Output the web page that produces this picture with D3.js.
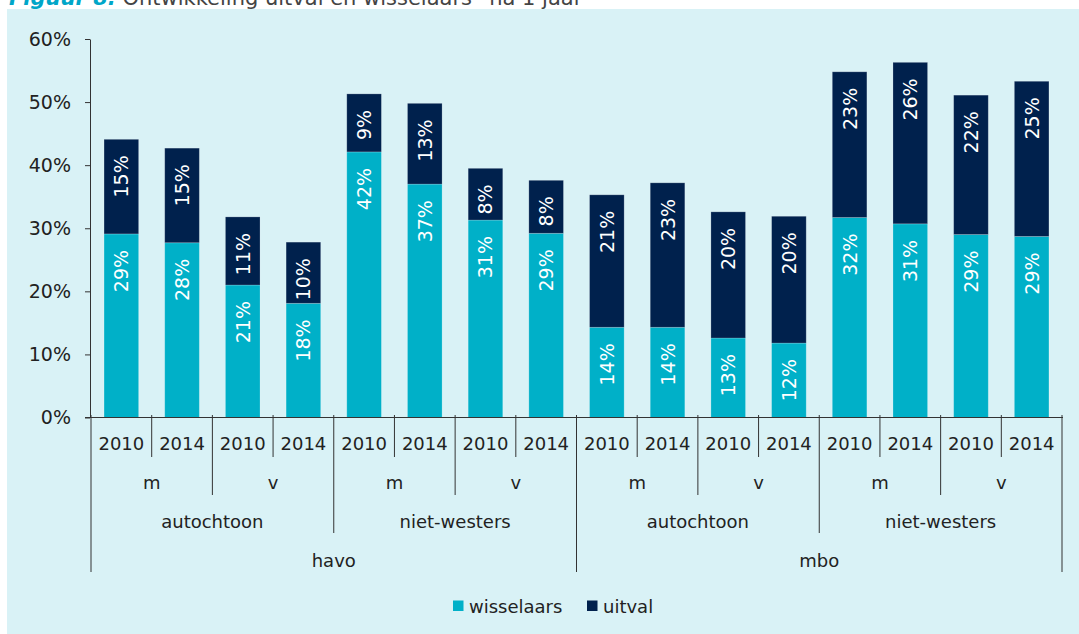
<!DOCTYPE html>
<html>
<head>
<meta charset="utf-8">
<script src="https://cdn.jsdelivr.net/npm/d3@7"></script>
<style>
  body { margin: 0; background: #fff; }
  svg { display: block; font-family: "DejaVu Sans", sans-serif; }
</style>
</head>
<body>
<svg width="1079" height="634"></svg>
<script>
const width = 1079;
const height = 634;

// categories, outer to inner
const levels = ['havo', 'mbo'];
const origins = ['autochtoon', 'niet-westers'];
const genders = ['m', 'v'];
const years = ['2010', '2014'];

// percentages per bar
const wisselaars = [29.1, 27.7, 21.0, 18.1, 42.1, 37.0, 31.3, 29.2, 14.3, 14.3, 12.6, 11.8, 31.7, 30.7, 29.0, 28.7];
const uitval = [15.0, 15.0, 10.8, 9.7, 9.2, 12.8, 8.2, 8.4, 21.0, 22.9, 20.0, 20.1, 23.1, 25.6, 22.1, 24.6];

const yTicks = [0, 10, 20, 30, 40, 50, 60];
const seriesNames = ['wisselaars', 'uitval'];
const colors = { wisselaars: '#00b0c8', uitval: '#00214d' };

const cats = [];
levels.forEach(l => origins.forEach(o => genders.forEach(g => years.forEach(y => {
  cats.push({ level: l, origin: o, gender: g, year: y, id: [l, o, g, y].join('|') });
}))));
const rows = cats.map((c, i) => ({ ...c, wisselaars: wisselaars[i], uitval: uitval[i] }));

const svg = d3.select('svg');

// title, partly cut off at the top
const title = svg.append('text')
  .attr('x', 9).attr('y', 5)
  .attr('font-size', 21)
  .attr('fill', '#444');
title.append('tspan').attr('font-weight', 'bold').attr('font-style', 'italic').attr('fill', '#00a6c8').text('Figuur 8.');
title.append('tspan').text(' Ontwikkeling uitval en wisselaars* na 1 jaar');

svg.append('rect')
  .attr('x', 7).attr('y', 9)
  .attr('width', width - 7).attr('height', height - 9)
  .attr('fill', '#d9f2f6');

const x = d3.scaleBand()
  .domain(cats.map(c => c.id))
  .range([91, 1062])
  .paddingInner(0.43)
  .paddingOuter(0.215);

const y = d3.scaleLinear()
  .domain([0, 60])
  .range([417.5, 39]);

// y axis
const yAxis = svg.append('g')
  .attr('transform', 'translate(90,0)')
  .call(d3.axisLeft(y).tickValues(yTicks).tickFormat(d => d + '%').tickSize(5).tickSizeOuter(0));
yAxis.select('.domain').attr('stroke', '#333');
yAxis.selectAll('.tick line').attr('stroke', '#333');
yAxis.selectAll('.tick text').attr('font-size', 19).attr('fill', '#222').attr('x', -19)
  .attr('font-family', '"DejaVu Sans", sans-serif');

// stacked bars
const stack = d3.stack().keys(seriesNames)(rows);

const layers = svg.append('g').selectAll('g')
  .data(stack)
  .join('g')
  .attr('fill', d => colors[d.key]);

layers.selectAll('rect')
  .data(d => d)
  .join('rect')
  .attr('x', d => x(d.data.id))
  .attr('y', d => y(d[1]))
  .attr('width', x.bandwidth())
  .attr('height', d => y(d[0]) - y(d[1]))
  .attr('stroke', 'rgba(255,255,255,0.25)')
  .attr('stroke-width', 0.8);

layers.selectAll('text')
  .data(d => d)
  .join('text')
  .attr('transform', d => `translate(${x(d.data.id) + x.bandwidth() / 2 + 7},${y(d[1]) + 16}) rotate(-90)`)
  .attr('text-anchor', 'end')
  .attr('font-size', 19)
  .attr('fill', '#fff')
  .text(d => Math.round(d[1] - d[0]) + '%');

// x axis line
svg.append('line')
  .attr('x1', 85).attr('x2', 1063)
  .attr('y1', 417.5).attr('y2', 417.5)
  .attr('stroke', '#333');

// hierarchical category axis
const step = x.step();
const x0 = 91;
const rowBottom = [457, 495, 533, 572];
const rowBase = [450, 489, 528, 567];

d3.range(0, cats.length + 1).forEach(i => {
  let depth;
  if (i % 8 === 0) depth = 3;
  else if (i % 4 === 0) depth = 2;
  else if (i % 2 === 0) depth = 1;
  else depth = 0;
  svg.append('line')
    .attr('x1', x0 + i * step).attr('x2', x0 + i * step)
    .attr('y1', 415).attr('y2', rowBottom[depth])
    .attr('stroke', '#333');
});

const axisLabels = svg.append('g').attr('font-size', 18).attr('fill', '#222').attr('text-anchor', 'middle');
const groupSizes = [1, 2, 4, 8];
const groupText = [c => c.year, c => c.gender, c => c.origin, c => c.level];
groupSizes.forEach((size, r) => {
  const groups = d3.range(0, cats.length, size);
  axisLabels.selectAll(null)
    .data(groups)
    .join('text')
    .attr('x', i => x0 + (i + size / 2) * step)
    .attr('y', rowBase[r])
    .text(i => groupText[r](cats[i]));
});

// legend
const legend = svg.append('g').attr('font-size', 18).attr('fill', '#222');
const legendX = [453, 587];
seriesNames.forEach((name, i) => {
  legend.append('rect')
    .attr('x', legendX[i]).attr('y', 600.5)
    .attr('width', 10.5).attr('height', 10.5)
    .attr('fill', colors[name]);
  legend.append('text')
    .attr('x', legendX[i] + 16).attr('y', 612.5)
    .text(name);
});
</script>
</body>
</html>
